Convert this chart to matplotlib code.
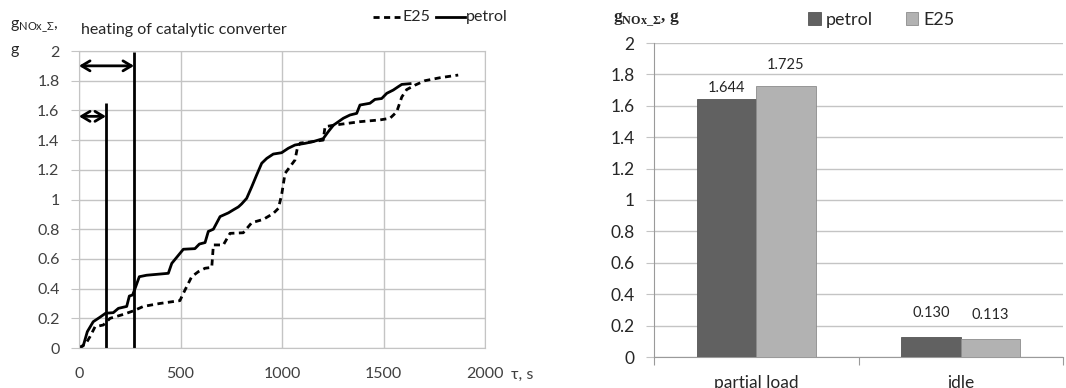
import matplotlib
matplotlib.use("Agg")
import matplotlib.pyplot as plt

plt.rcParams['font.family'] = ['Lato', 'DejaVu Sans']
plt.rcParams['mathtext.fontset'] = 'custom'
plt.rcParams['mathtext.rm'] = 'Lato'

# cumulative NOx over the test, g
petrol_t = [0, 21, 41, 70, 103, 131, 169, 194, 235, 248, 264, 276, 297, 333, 440, 457, 481,
            514, 571, 593, 621, 637, 662, 695, 736, 760, 785, 801, 826, 851, 875, 900, 925,
            957, 998, 1031, 1064, 1113, 1154, 1203, 1228, 1253, 1302, 1335, 1368, 1384,
            1433, 1458, 1491, 1516, 1548, 1573, 1590, 1631]
petrol_g = [0, 0.015, 0.11, 0.177, 0.207, 0.234, 0.238, 0.267, 0.28, 0.35, 0.357, 0.40,
            0.48, 0.49, 0.503, 0.57, 0.61, 0.665, 0.669, 0.70, 0.71, 0.785, 0.80, 0.885,
            0.91, 0.93, 0.95, 0.97, 1.008, 1.086, 1.165, 1.244, 1.277, 1.306, 1.315, 1.345,
            1.367, 1.378, 1.39, 1.41, 1.457, 1.50, 1.547, 1.569, 1.58, 1.636, 1.648, 1.674,
            1.68, 1.715, 1.737, 1.76, 1.775, 1.78]

e25_t = [0, 34, 54, 79, 120, 153, 218, 268, 317, 399, 497, 514, 555, 588, 621, 654, 662,
         711, 744, 809, 851, 908, 957, 982, 998, 1015, 1039, 1064, 1077, 1090, 1154, 1203,
         1212, 1253, 1384, 1483, 1532, 1565, 1590, 1614, 1655, 1704, 1778, 1868]
e25_g = [0, 0.03, 0.076, 0.143, 0.155, 0.20, 0.226, 0.25, 0.28, 0.30, 0.319, 0.368, 0.48,
         0.514, 0.537, 0.543, 0.694, 0.694, 0.772, 0.776, 0.844, 0.866, 0.906, 0.94, 1.03,
         1.176, 1.22, 1.266, 1.356, 1.38, 1.39, 1.40, 1.49, 1.50, 1.524, 1.536, 1.547, 1.59,
         1.69, 1.74, 1.77, 1.80, 1.82, 1.838]

# catalytic converter heating intervals, s
heat_short = 133
heat_long = 271

modes = ['partial load', 'idle']
bar_petrol = [1.644, 0.130]
bar_e25 = [1.725, 0.113]
bar_labels_petrol = ['1.644', '0.130']
bar_labels_e25 = ['1.725', '0.113']

W, H = 1066, 388
fig = plt.figure(figsize=(W / 100, H / 100), dpi=100)


def box(x0, y0, x1, y1):
    return [x0 / W, 1 - y1 / H, (x1 - x0) / W, (y1 - y0) / H]


grid_c = '#c4c4c4'
txt_c = '#404040'

# ---- left: cumulative NOx vs time ----
ax = fig.add_axes(box(79, 51, 485, 348))
ax.plot(e25_t, e25_g, color='black', lw=2, ls=(0, (2.2, 1.6)))
ax.plot(petrol_t, petrol_g, color='black', lw=2)
ax.set_xlim(0, 2000)
ax.set_ylim(0, 2)
ax.set_xticks([0, 500, 1000, 1500, 2000])
ax.set_yticks([i * 0.2 for i in range(11)])
ax.set_yticklabels(['0', '0.2', '0.4', '0.6', '0.8', '1', '1.2', '1.4', '1.6', '1.8', '2'])
ax.grid(True, color=grid_c, lw=1)
for s in ax.spines.values():
    s.set_color(grid_c)
ax.tick_params(axis='y', length=6, color=grid_c, labelsize=11.5, labelcolor=txt_c, pad=8)
ax.tick_params(axis='x', length=0, labelsize=11.5, labelcolor=txt_c, pad=14)

ax.vlines([heat_short], 0, 1.65, color='black', lw=2)
ax.vlines([heat_long], 0, 1.99, color='black', lw=2)
for xe, ya in [(heat_long, 1.9), (heat_short, 1.56)]:
    ax.annotate('', xy=(0, ya), xytext=(xe, ya),
                arrowprops=dict(arrowstyle='<->,head_length=0.5,head_width=0.3',
                                color='black', lw=2, shrinkA=0, shrinkB=0,
                                mutation_scale=12))

fig.text(81 / W, 1 - 30 / H, 'heating of catalytic converter', fontsize=11.5, color='#262626',
         va='center', ha='left')
fig.text(10 / W, 1 - 27 / H, r'g$_{\mathregular{NOx\_Σ}}$,', fontsize=11.5, color='#262626',
         va='center', ha='left')
fig.text(10 / W, 1 - 50 / H, 'g', fontsize=11.5, color='#262626', va='center', ha='left')
fig.text(511 / W, 1 - 375 / H, 'τ, s', fontsize=11.5, color=txt_c, va='center', ha='left')

# legend drawn in figure space
leg_y = 1 - 17 / H
fig.add_artist(plt.Line2D([373 / W, 400 / W], [leg_y, leg_y], color='black', lw=2,
                          ls=(0, (2.2, 1.6))))
fig.text(402 / W, leg_y, 'E25', fontsize=11.5, color='#262626', va='center')
fig.add_artist(plt.Line2D([436 / W, 465 / W], [leg_y, leg_y], color='black', lw=2))
fig.text(466 / W, leg_y, 'petrol', fontsize=11.5, color='#262626', va='center')

# ---- right: totals per mode ----
bx = fig.add_axes(box(654, 43, 1063, 357))
xs = list(range(len(modes)))
bw = 0.29
bp = bx.bar([x - bw / 2 for x in xs], bar_petrol, bw, color='#616161', edgecolor='#555555',
            lw=0.6, zorder=3, label='petrol')
be = bx.bar([x + bw / 2 for x in xs], bar_e25, bw, color='#b2b2b2', edgecolor='#8c8c8c',
            lw=0.6, zorder=3, label='E25')
bx.set_xlim(-0.5, 1.5)
bx.set_ylim(0, 2)
bx.set_yticks([i * 0.2 for i in range(11)])
bx.set_yticklabels(['0', '0.2', '0.4', '0.6', '0.8', '1', '1.2', '1.4', '1.6', '1.8', '2'])
bx.yaxis.grid(True, color=grid_c, lw=1, zorder=0)
bx.set_xticks([-0.5, 0.5, 1.5])
bx.set_xticklabels([])
bx.set_xticks(xs, minor=True)
bx.set_xticklabels(modes, minor=True)
bx.tick_params(axis='x', which='minor', length=0, labelsize=12.5, labelcolor='#262626', pad=13)
bx.tick_params(axis='x', which='major', length=6, color='#9a9a9a')
bx.tick_params(axis='y', length=6, color=grid_c, labelsize=12.5, labelcolor='#262626', pad=8)
for k in ['top', 'right']:
    bx.spines[k].set_visible(False)
bx.spines['left'].set_color('#9a9a9a')
bx.spines['bottom'].set_color('#9a9a9a')

offs_p = [11, 24]
offs_e = [21, 24]
for i, x in enumerate(xs):
    bx.annotate(bar_labels_petrol[i], (x - bw / 2, bar_petrol[i]), xytext=(0, offs_p[i]),
                textcoords='offset pixels', ha='center', va='center', fontsize=10.5,
                color='#262626')
    bx.annotate(bar_labels_e25[i], (x + bw / 2, bar_e25[i]), xytext=(0, offs_e[i]),
                textcoords='offset pixels', ha='center', va='center', fontsize=10.5,
                color='#262626')

fig.legend(handles=[bp, be], loc='center left', bbox_to_anchor=(799 / W, 1 - 20 / H),
           ncol=2, frameon=False, fontsize=13, handlelength=0.7, handleheight=0.7,
           handletextpad=0.3, columnspacing=1.8, borderpad=0, labelcolor='#262626')
fig.text(613 / W, 1 - 20 / H, r'g$_{\mathregular{NOx\_Σ}}$, g', fontsize=12.5,
         family='Liberation Serif', weight='bold', color='#262626', va='center')

fig.savefig('out.png', dpi=100)
